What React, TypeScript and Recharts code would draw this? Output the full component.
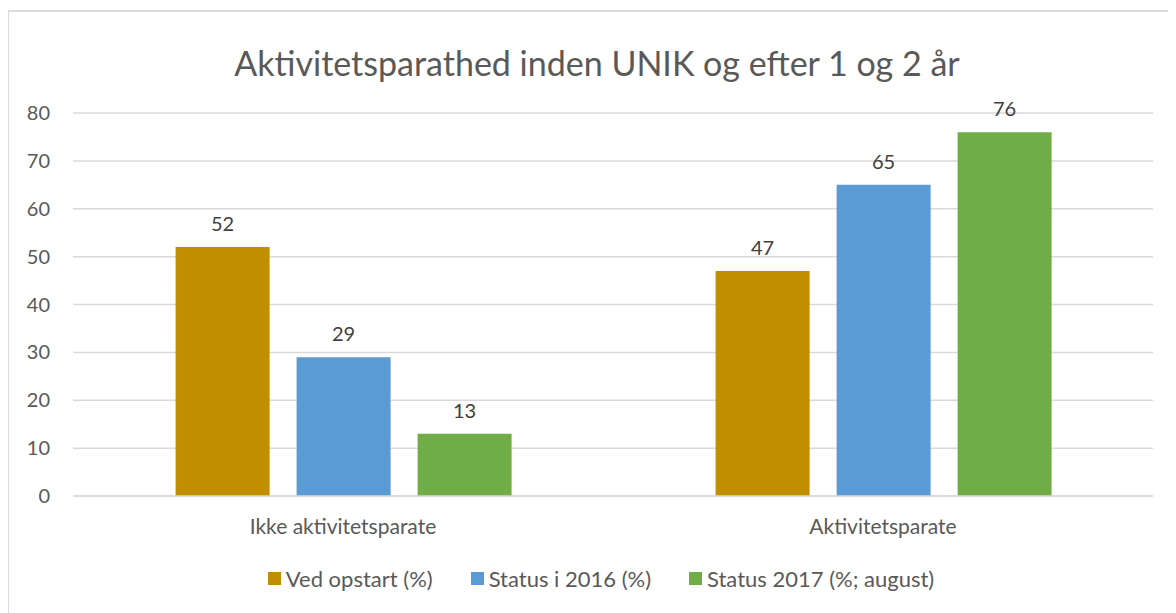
import React from "react";
import { BarChart, Bar, XAxis, YAxis, CartesianGrid, Legend, LabelList } from "recharts";

const categories = ["Ikke aktivitetsparate", "Aktivitetsparate"];
const vedOpstart = [52, 47];
const status2016 = [29, 65];
const status2017 = [13, 76];
const yTicks = [0, 10, 20, 30, 40, 50, 60, 70, 80];

const seriesNames = ["Ved opstart (%)", "Status i 2016 (%)", "Status 2017 (%; august)"];
const seriesKeys = ["ved", "s2016", "s2017"];
const seriesColors = ["#BF8F00", "#5B9BD5", "#70AD47"];

const FONT = "Lato, 'Open Sans', sans-serif";
const GREY = "#595959";

const data = categories.map((name, i) => ({
  name,
  ved: vedOpstart[i],
  s2016: status2016[i],
  s2017: status2017[i],
}));

// keep legend in series order (recharts sorts it by default)
const renderLegend = () => (
  <div
    style={{
      display: "flex",
      justifyContent: "center",
      alignItems: "center",
      height: 26,
      paddingLeft: 40,
      fontFamily: FONT,
      fontSize: 22,
      color: GREY,
    }}
  >
    {seriesNames.map((n, i) => (
      <div key={n} style={{ display: "flex", alignItems: "center", marginRight: i < 2 ? 38 : 0 }}>
        <span
          style={{ width: 13, height: 13, background: seriesColors[i], marginRight: 5, display: "inline-block" }}
        />
        <span>{n}</span>
      </div>
    ))}
  </div>
);

const App: React.FC = () => {
  return (
    <div
      style={{
        position: "relative",
        marginLeft: -1,
        marginTop: 2,
        width: 1180,
        height: 620,
        border: "2px solid #dcdcdc",
        boxSizing: "border-box",
        fontFamily: FONT,
        background: "#fff",
      }}
    >
      <div
        style={{
          position: "absolute",
          top: 30,
          left: 0,
          width: 1176,
          textAlign: "center",
          fontSize: 34,
          lineHeight: "41px",
          color: GREY,
        }}
      >
        Aktivitetsparathed inden UNIK og efter 1 og 2 år
      </div>
      <BarChart
        width={1158}
        height={598}
        data={data}
        margin={{ top: 101, right: 14, left: 0, bottom: 19 }}
        barCategoryGap="19%"
        barGap={27}
      >
        <CartesianGrid vertical={false} stroke="#d9d9d9" strokeWidth={1.5} />
        <XAxis
          dataKey="name"
          axisLine={{ stroke: "#d9d9d9", strokeWidth: 1.5 }}
          tickLine={false}
          tickMargin={17}
          tick={{ fill: GREY, fontSize: 21, fontFamily: FONT }}
        />
        <YAxis
          width={64}
          domain={[0, 80]}
          ticks={yTicks}
          axisLine={false}
          tickLine={false}
          tickMargin={17}
          tick={{ fill: GREY, fontSize: 20, fontFamily: FONT }}
        />
        <Legend verticalAlign="bottom" content={renderLegend} wrapperStyle={{ paddingTop: 39 }} />
        {seriesKeys.map((k, i) => (
          <Bar key={k} dataKey={k} name={seriesNames[i]} fill={seriesColors[i]} isAnimationActive={false}>
            <LabelList dataKey={k} position="top" offset={16} fill="#404040" fontSize={20} fontFamily={FONT} />
          </Bar>
        ))}
      </BarChart>
    </div>
  );
};

export default App;
